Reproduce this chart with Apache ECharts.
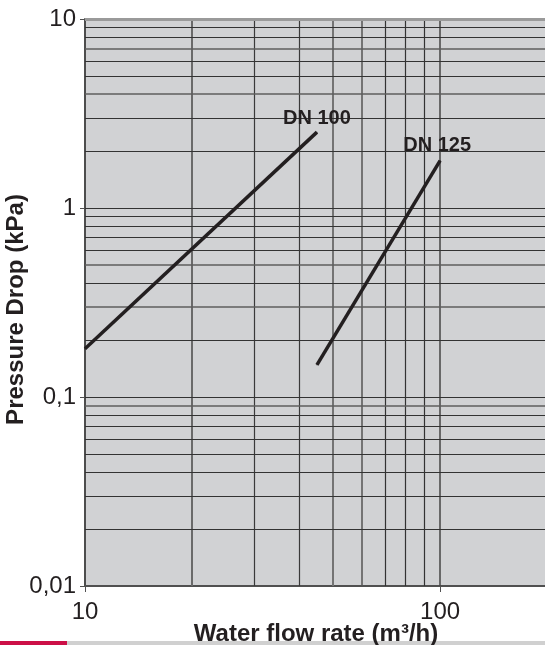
<!DOCTYPE html>
<html><head><meta charset="utf-8">
<script src="https://cdn.jsdelivr.net/npm/echarts@6/dist/echarts.min.js"></script>
<style>html,body{margin:0;padding:0;background:#fff}#c{width:545px;height:645px}</style>
</head><body><div id="c"></div>
<script>
// ---- data ----
const seriesNames = ['DN 100', 'DN 125'];
const dn100Flow = [10, 45];
const dn100Drop = [0.18, 2.52];
const dn125Flow = [45, 100];
const dn125Drop = [0.148, 1.78];
const xTickLabels = ['10', '100'];
const yTickLabels = ['0,01', '0,1', '1', '10'];
const xGridValues = [20, 30, 40, 50, 60, 70, 80, 90, 100];
const yGridValues = [0.02,0.03,0.04,0.05,0.06,0.07,0.08,0.09,
                     0.1,0.2,0.3,0.4,0.5,0.6,0.7,0.8,0.9,
                     1,2,3,4,5,6,7,8,9];
const xAxisTitle = 'Water flow rate (m³/h)';
const yAxisTitle = 'Pressure Drop (kPa)';

// ---- styling ----
const FONT = "'Liberation Sans', Arial, Helvetica, sans-serif";
const INK = '#231f20';
const vStyles = {20:['#6a6a6a',2],30:['#3a3a3a',1.2],40:['#3a3a3a',1.2],50:['#747474',2],
                 60:['#555555',1.5],70:['#333333',1.2],80:['#333333',1.2],90:['#333333',1.2],100:['#444444',1.5]};
const hGray = {0.09:1, 0.3:1, 0.5:1, 4:1, 7:1};

const vLines = xGridValues.map(v => ({
  xAxis: v,
  lineStyle: {color: vStyles[v][0], width: vStyles[v][1], type: 'solid'}
}));
const hLines = yGridValues.map(v => ({
  yAxis: v,
  lineStyle: hGray[v] ? {color: '#5e5e5e', width: 1.5, type: 'solid'} : {color: '#333333', width: 1.1, type: 'solid'}
}));
hLines.push({yAxis: 10, lineStyle: {color: '#9a9a9a', width: 3, type: 'solid'}});

function pts(xs, ys, name, labelOpt) {
  return xs.map((x, i) => {
    const item = {value: [x, ys[i]]};
    if (i === xs.length - 1) {
      item.label = Object.assign({
        show: true, formatter: name, position: 'top',
        fontFamily: FONT, fontWeight: 'bold', fontSize: 20, color: INK
      }, labelOpt);
    }
    return item;
  });
}

const chart = echarts.init(document.getElementById('c'), null, {renderer: 'canvas'});
chart.setOption({
  animation: false,
  backgroundColor: '#ffffff',
  grid: {left: 85, top: 19, width: 462, height: 567, show: true, backgroundColor: '#d1d2d4', borderWidth: 0,
         containLabel: false, outerBoundsMode: 'none'},
  xAxis: {
    type: 'log', logBase: 10, min: 10, max: 200,
    name: xAxisTitle, nameLocation: 'middle', nameGap: 36, nameMoveOverlap: false,
    nameTextStyle: {fontFamily: FONT, fontWeight: 'bold', fontSize: 24, color: INK},
    axisLine: {show: true, lineStyle: {color: '#505050', width: 2}},
    axisTick: {show: true, length: 6, lineStyle: {color: '#505050', width: 1}},
    axisLabel: {
      margin: 14, fontFamily: FONT, fontSize: 24, color: INK, showMaxLabel: false,
      formatter: v => {
        const k = Math.log10(v), r = Math.round(k);
        return Math.abs(k - r) < 1e-6 ? (xTickLabels[r - 1] || '') : '';
      }
    },
    splitLine: {show: false}, minorSplitLine: {show: false}
  },
  yAxis: {
    type: 'log', logBase: 10, min: 0.01, max: 10,
    name: yAxisTitle, nameLocation: 'middle', nameGap: 57, nameMoveOverlap: false,
    nameTextStyle: {fontFamily: FONT, fontWeight: 'bold', fontSize: 24, color: INK, padding: [0, 14, 0, 0]},
    axisLine: {show: true, lineStyle: {color: '#4d4d4d', width: 2}},
    axisTick: {show: true, length: 5, lineStyle: {color: '#505050', width: 1}},
    axisLabel: {
      margin: 9, fontFamily: FONT, fontSize: 24, color: INK,
      formatter: v => yTickLabels[Math.round(Math.log10(v)) + 2] || ''
    },
    splitLine: {show: false}
  },
  series: [
    {
      name: 'grid', type: 'line', data: [], z: 1, clip: false, silent: true,
      markLine: {silent: true, symbol: 'none', animation: false, label: {show: false},
                 data: vLines.concat(hLines)}
    },
    {
      name: seriesNames[0], type: 'line', z: 5,
      data: pts(dn100Flow, dn100Drop, seriesNames[0], {distance: 3}),
      symbol: 'circle', symbolSize: 1, showSymbol: true,
      itemStyle: {color: INK}, lineStyle: {color: INK, width: 3.5}
    },
    {
      name: seriesNames[1], type: 'line', z: 5,
      data: pts(dn125Flow, dn125Drop, seriesNames[1], {distance: 5, offset: [-3, 0]}),
      symbol: 'circle', symbolSize: 1, showSymbol: true,
      itemStyle: {color: INK}, lineStyle: {color: INK, width: 3.5}
    }
  ],
  graphic: [
    {type: 'rect', left: 0, top: 641, shape: {width: 67, height: 4}, style: {fill: '#cc0f47'}, silent: true},
    {type: 'rect', left: 67, top: 641, shape: {width: 478, height: 4}, style: {fill: '#d0d0d0'}, silent: true}
  ]
});
</script></body></html>
